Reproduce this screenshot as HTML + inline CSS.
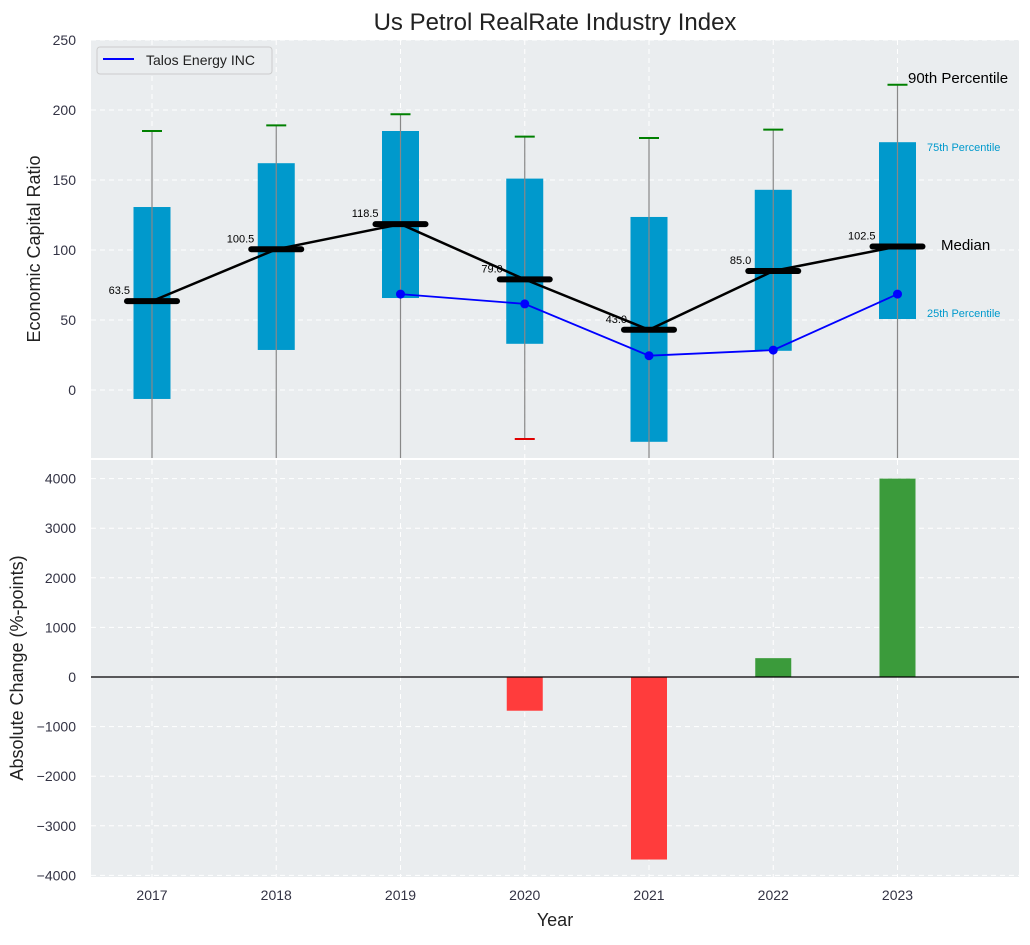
<!DOCTYPE html>
<html><head><meta charset="utf-8"><style>
body{margin:0;background:#fff;font-family:"Liberation Sans",sans-serif}
svg text{font-family:"Liberation Sans",sans-serif}
</style></head><body>
<svg id="c" width="1030" height="940" xmlns="http://www.w3.org/2000/svg"></svg>
<script>
const years=["2017","2018","2019","2020","2021","2022","2023"];
const q25=[-6.4,28.6,65.7,33,-37,28,50.7];
const q75=[130.7,162,185,151,123.6,143,177];
const p90=[185,189,197,181,180,186,218];
const p10=[-80,-80,-80,-35,-80,-80,-80];
const medians=[63.5,100.5,118.5,79.0,43.0,85.0,102.5];
const talosYears=[2,3,4,5,6];
const talosVals=[68.5,61.5,24.5,28.5,68.5];
const changes=[0,0,0,-680,-3680,380,4000];
const topTicks=[0,50,100,150,200,250];
const botTicks=[-4000,-3000,-2000,-1000,0,1000,2000,3000,4000];

const NS="http://www.w3.org/2000/svg";const svg=document.getElementById('c');
function el(t,a,p){const e=document.createElementNS(NS,t);for(const k in a)e.setAttribute(k,a[k]);(p||svg).appendChild(e);return e;}
const L=91,R=1019;
const x=i=>152+i*124.25;
const T0=40,T1=458;const yT=v=>390-v*1.4;
const B0=460,B1=877;const yB=v=>677-v*0.0496;

let t=el('text',{x:555,y:30,'text-anchor':'middle','font-size':24,fill:'#222'});t.textContent='Us Petrol RealRate Industry Index';


let bg=el('rect',{x:L,y:T0,width:R-L,height:T1-T0,fill:'#eaedef'});

bg=el('rect',{x:L,y:B0,width:R-L,height:B1-B0,fill:'#eaedef'});


years.forEach((y,i)=>{
 el('line',{x1:x(i),x2:x(i),y1:T0,y2:T1,stroke:'#fff','stroke-dasharray':'5,4','stroke-width':1});
 el('line',{x1:x(i),x2:x(i),y1:B0,y2:B1,stroke:'#fff','stroke-dasharray':'5,4','stroke-width':1});
 let tx=el('text',{x:x(i),y:900,'text-anchor':'middle','font-size':14,fill:'#334'});tx.textContent=y;
 
});
topTicks.forEach(v=>{
 el('line',{x1:L,x2:R,y1:yT(v),y2:yT(v),stroke:'#fff','stroke-dasharray':'5,4'});
 let tx=el('text',{x:76,y:yT(v)+5,'text-anchor':'end','font-size':14,fill:'#334'});tx.textContent=v;
 
});
botTicks.forEach(v=>{
 el('line',{x1:L,x2:R,y1:yB(v),y2:yB(v),stroke:'#fff','stroke-dasharray':'5,4'});
 let tx=el('text',{x:76,y:yB(v)+5,'text-anchor':'end','font-size':14,fill:'#334'});tx.textContent=String(v).replace('-','\u2212');
 
});

const clipT=el('clipPath',{id:'ct'});el('rect',{x:L,y:T0,width:R-L,height:T1-T0},clipT);
const topG=el('g',{'clip-path':'url(#ct)'});

years.forEach((y,i)=>{
 let b=el('rect',{x:x(i)-18.5,y:yT(q75[i]),width:37,height:yT(q25[i])-yT(q75[i]),fill:'#0099cc'},topG);
 
 let w=el('line',{x1:x(i),x2:x(i),y1:yT(p90[i]),y2:yT(p10[i]),stroke:'#888','stroke-width':1.2},topG);
 
 let c=el('line',{x1:x(i)-10,x2:x(i)+10,y1:yT(p90[i]),y2:yT(p90[i]),stroke:'#008000','stroke-width':2},topG);
 
 if(p10[i]>-48){let c2=el('line',{x1:x(i)-10,x2:x(i)+10,y1:yT(p10[i]),y2:yT(p10[i]),stroke:'#e00000','stroke-width':2},topG);
 }
});
let ml=el('polyline',{points:medians.map((m,i)=>x(i)+','+yT(m)).join(' '),fill:'none',stroke:'#000','stroke-width':2.5},topG);

medians.forEach((m,i)=>{
 let b=el('line',{x1:x(i)-25,x2:x(i)+25,y1:yT(m),y2:yT(m),stroke:'#000','stroke-width':6,'stroke-linecap':'round'},topG);
 
 let tx=el('text',{x:x(i)-22,y:yT(m)-7,'text-anchor':'end','font-size':11,fill:'#000'});tx.textContent=m.toFixed(1);
 
});
let tl=el('polyline',{points:talosYears.map((k,j)=>x(k)+','+yT(talosVals[j])).join(' '),fill:'none',stroke:'#0000ff','stroke-width':1.8},topG);

talosYears.forEach((k,j)=>{let p=el('circle',{cx:x(k),cy:yT(talosVals[j]),r:4.5,fill:'#0000ff'},topG);
 });

const ann=[['90th Percentile',908,83,15,'#000'],['75th Percentile',927,151,11,'#0099cc'],['Median',941,250,15,'#000'],['25th Percentile',927,317,11,'#0099cc']];
ann.forEach(a=>{let tx=el('text',{x:a[1],y:a[2],'font-size':a[3],fill:a[4]});tx.textContent=a[0];
 });

let lg=el('g',{});
el('rect',{x:97,y:47,width:175,height:27,rx:3,fill:'#eaedef',stroke:'#ccc'},lg);
el('line',{x1:103,x2:134,y1:59,y2:59,stroke:'#0000ff','stroke-width':2},lg);
let lt=el('text',{x:146,y:65,'font-size':14,fill:'#222'},lg);lt.textContent='Talos Energy INC';

changes.forEach((v,i)=>{if(!v)return;
 let b=el('rect',{x:x(i)-18,y:Math.min(yB(v),yB(0)),width:36,height:Math.abs(yB(v)-yB(0)),fill:v>0?'#3b9b3b':'#ff3c3c'});
 });
el('line',{x1:L,x2:R,y1:yB(0),y2:yB(0),stroke:'#000','stroke-width':1.2});

let yl=el('text',{x:40,y:249,'text-anchor':'middle','font-size':18,fill:'#222',transform:'rotate(-90 40 249)'});yl.textContent='Economic Capital Ratio';

yl=el('text',{x:23,y:668,'text-anchor':'middle','font-size':18,fill:'#222',transform:'rotate(-90 23 668)'});yl.textContent='Absolute Change (%-points)';

let xl=el('text',{x:555,y:926,'text-anchor':'middle','font-size':18,fill:'#222'});xl.textContent='Year';

</script>
</body></html>
